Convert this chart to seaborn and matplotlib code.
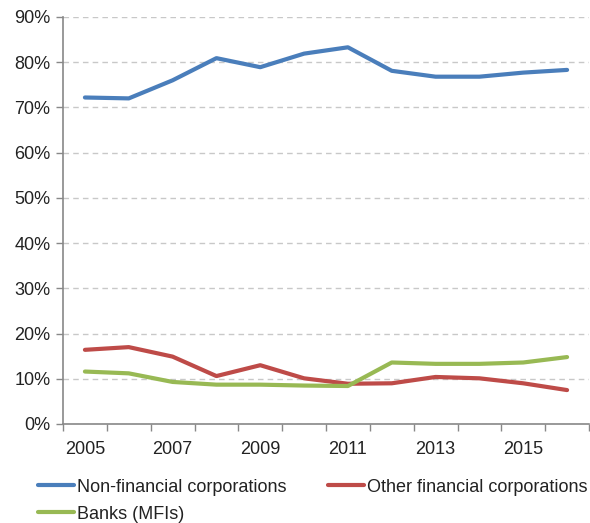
import pandas as pd
import matplotlib.pyplot as plt
import seaborn as sns
from matplotlib.ticker import FixedLocator, PercentFormatter

# Data (share, %)
years = list(range(2005, 2017))
non_financial = [72.2, 72.0, 76.0, 80.9, 78.9, 81.9, 83.3, 78.1, 76.8, 76.8, 77.7, 78.3]
other_financial = [16.4, 17.0, 14.9, 10.6, 13.0, 10.1, 8.9, 9.0, 10.4, 10.1, 9.0, 7.5]
banks = [11.6, 11.2, 9.3, 8.7, 8.7, 8.5, 8.4, 13.6, 13.3, 13.3, 13.6, 14.8]

series_names = ['Non-financial corporations', 'Other financial corporations', 'Banks (MFIs)']
colors = ['#4A7EBB', '#BE4B48', '#98B954']

df = pd.DataFrame({
    'year': years * 3,
    'value': non_financial + other_financial + banks,
    'sector': [series_names[0]] * 12 + [series_names[1]] * 12 + [series_names[2]] * 12,
})

sns.set_style('white')
plt.rcParams['font.family'] = ['Liberation Sans', 'DejaVu Sans']

fig = plt.figure(figsize=(5.9, 5.23), dpi=100)
ax = fig.add_axes([0.1068, 0.1893, 0.8915, 0.7782])

sns.lineplot(data=df, x='year', y='value', hue='sector', palette=colors,
             hue_order=series_names, linewidth=3, ax=ax, legend=False)

ax.set_xlim(2004.5, 2016.5)
ax.set_ylim(0, 90)
ax.set_yticks(range(0, 91, 10))
ax.yaxis.set_major_formatter(PercentFormatter(decimals=0))
ax.set_xticks(years[::2])
ax.xaxis.set_minor_locator(FixedLocator([y + 0.5 for y in range(2004, 2017)]))
ax.tick_params(axis='x', which='major', bottom=True, length=0, pad=12, labelsize=13, colors='#222222')
ax.tick_params(axis='x', which='minor', bottom=True, length=5, color='#888888', width=1, direction='out')
ax.tick_params(axis='y', left=True, length=5, color='#888888', width=1, direction='out',
               labelsize=13, pad=4, labelcolor='#222222')
ax.set_xlabel('')
ax.set_ylabel('')

ax.grid(axis='y', linestyle=(0, (4, 3)), color='#c8c8c8', linewidth=1)
ax.set_axisbelow(True)
for side in ['top', 'right']:
    ax.spines[side].set_visible(False)
for side in ['left', 'bottom']:
    ax.spines[side].set_color('#888888')
    ax.spines[side].set_linewidth(1.2)

# legend: column 1 = Non-financial, Banks; column 2 = Other financial
handles = [plt.Line2D([], [], color=c, linewidth=3) for c in colors]
order = [0, 2, 1]
fig.legend([handles[i] for i in order], [series_names[i] for i in order],
           loc='upper left', bbox_to_anchor=(0.064, 0.085), ncol=2, frameon=False,
           fontsize=13, handlelength=2.0, handletextpad=0.15, columnspacing=2.33,
           labelspacing=0.56, borderaxespad=0, borderpad=0, labelcolor='#222222')

plt.savefig('out.png', dpi=100)
